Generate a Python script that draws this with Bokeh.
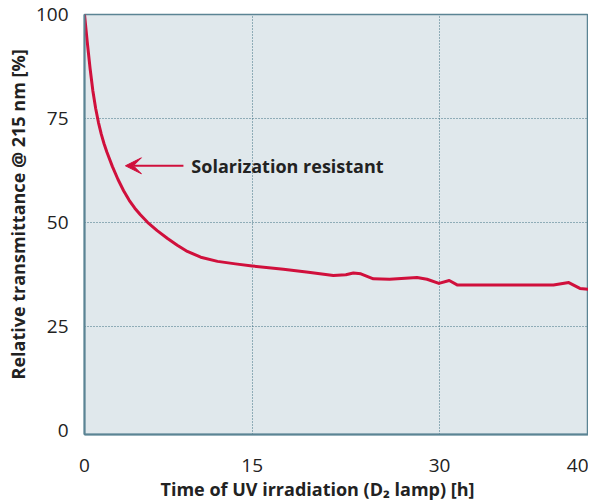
import numpy as np
from bokeh.plotting import figure
from bokeh.models import FixedTicker, Range1d, Label, Arrow, VeeHead, Title
from bokeh.embed import file_html
from bokeh.resources import INLINE

# ---- data ----
hours = [0, 0.25, 0.5, 0.75, 1.0, 1.25, 1.5, 1.75, 2.0, 2.5, 3.0, 3.5, 4.0, 4.5, 5.0,
         5.64, 6.5, 7.43, 8.3, 9.2, 10.4, 11.9, 13.5, 15.0, 17.5, 19.5, 21.5, 22.5,
         23.1, 23.7, 24.7, 26.0, 28.2, 29.0, 29.95, 30.7, 31.3, 38.2, 39.3, 40.1, 40.72]
transmittance = [100, 93.3, 87.0, 81.6, 77.4, 74.0, 71.2, 68.9, 66.9, 63.4, 60.3, 57.6,
                 55.3, 53.4, 51.8, 50.0, 48.0, 46.1, 44.5, 43.0, 41.6, 40.6, 40.0, 39.5,
                 38.7, 38.0, 37.2, 37.4, 37.8, 37.6, 36.4, 36.3, 36.7, 36.3, 35.3, 36.0,
                 34.9, 34.9, 35.5, 34.1, 33.9]
x_tick_hours = [0, 15, 30, 40]
x_tick_labels = ["0", "15", "30", "40"]
y_ticks = [0, 25, 50, 75, 100]
x_title = "Time of UV irradiation (D\u2082 lamp) [h]"
y_title = "Relative transmittance @ 215 nm [%]"
annotation_text = "Solarization resistant"
annotation_hours = 9.56
annotation_value = 63.6
arrow_tail_hours = 8.85
arrow_tip_hours = 3.66

# ---- segmented x axis of the original (hours -> fraction of axis width) ----
AXIS_H = [0, 15, 30, 40, 40.72]
AXIS_F = [0, 0.3327, 0.7044, 0.9802, 1.0]


def xmap(h):
    return np.interp(h, AXIS_H, AXIS_F)


FONT = "Open Sans"
TXT = "#222222"
RED = "#d0103c"
EDGE = "#5b8494"
GRID = "#3f7082"

p = figure(width=588, height=500, output_backend="svg", toolbar_location=None,
           x_range=Range1d(0, 1), y_range=Range1d(-1.05, 100),
           min_border_left=84, min_border_right=0, min_border_top=14, min_border_bottom=62,
           background_fill_color="#e0e8ec", border_fill_color="white")

p.line(xmap(hours), transmittance, line_color=RED, line_width=3, line_join="round")

# axes
xt = [float(v) for v in xmap(x_tick_hours)]
p.xaxis.ticker = FixedTicker(ticks=xt)
p.xaxis.major_label_overrides = {v: s for v, s in zip(xt, x_tick_labels)}
p.yaxis.ticker = FixedTicker(ticks=y_ticks)
for ax in (p.xaxis[0], p.yaxis[0]):
    ax.axis_line_color = EDGE
    ax.axis_line_width = 2
    ax.major_tick_line_color = None
    ax.minor_tick_line_color = None
    ax.major_label_text_font = FONT
    ax.major_label_text_font_size = "19px"
    ax.major_label_text_color = TXT
p.yaxis.major_label_standoff = 10
p.xaxis.major_label_standoff = 18

p.outline_line_color = EDGE
p.outline_line_width = 1.5
p.outline_line_alpha = 1

p.xgrid.ticker = FixedTicker(ticks=[xt[1], xt[2]])
p.ygrid.ticker = FixedTicker(ticks=[25, 50, 75])
for g in (p.xgrid[0], p.ygrid[0]):
    g.grid_line_color = GRID
    g.grid_line_dash = "1 2"
    g.grid_line_width = 1

# axis titles (placed as in the original, off-centre)
p.add_layout(Title(text=x_title, align="left", offset=76, standoff=0,
                   text_font=FONT, text_font_style="bold", text_font_size="18px",
                   text_color=TXT), "below")
p.add_layout(Title(text=y_title, align="left", offset=55, standoff=6,
                   text_font=FONT, text_font_style="bold", text_font_size="18px",
                   text_color=TXT), "left")

# annotation
p.add_layout(Arrow(x_start=float(xmap(arrow_tail_hours)), y_start=annotation_value,
                   x_end=float(xmap(arrow_tip_hours)), y_end=annotation_value,
                   line_color=RED, line_width=2,
                   end=VeeHead(size=16, fill_color=RED, line_color=RED, line_width=1)))
p.add_layout(Label(x=float(xmap(annotation_hours)), y=annotation_value, text=annotation_text,
                   text_font=FONT, text_font_style="bold", text_font_size="18px",
                   text_color=TXT, text_align="left", text_baseline="middle"))

open("out.html", "w").write(file_html(p, INLINE))
